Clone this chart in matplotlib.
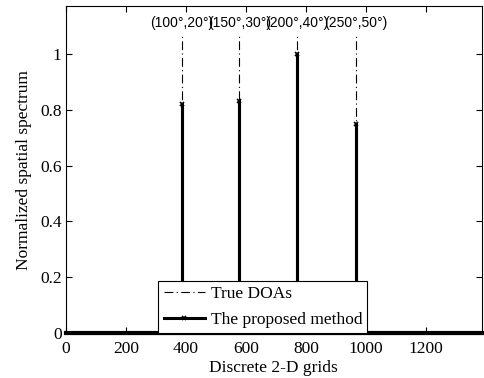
import matplotlib.pyplot as plt

# grid index of each source and its normalized peak
peak_grid = [386, 578, 769, 966]
peak_value = [0.82, 0.83, 1.0, 0.75]
peak_labels = ['(100°,20°)', '(150°,30°)', '(200°,40°)', '(250°,50°)']
n_grid = 1385
true_top = 1.07

# spectrum: zero everywhere except the four peaks
xs = [0]
ys = [0]
for g, v in zip(peak_grid, peak_value):
    xs += [g, g, g]
    ys += [0, v, 0]
xs.append(n_grid)
ys.append(0)
peak_idx = [2 + 3 * i for i in range(len(peak_grid))]

plt.rcParams['font.family'] = 'Liberation Serif'
fig = plt.figure(figsize=(4.84, 3.78), dpi=100)
ax = fig.add_axes([0.136, 0.119, 0.859, 0.864])

ax.vlines(peak_grid, 0, true_top, colors='black', linestyles=(0, (8, 3, 1, 3)),
          linewidth=0.8, label='True DOAs')
ax.plot(xs, ys, color='black', linewidth=2.2, marker='x', markersize=3.5,
        markeredgewidth=1.2, markevery=peak_idx, clip_on=False,
        label='The proposed method')

for g, lab in zip(peak_grid, peak_labels):
    ax.text(g, 1.11, lab, ha='center', va='center', fontsize=10,
            family='Liberation Sans')

ax.set_xlim(0, n_grid)
ax.set_ylim(0, 1.17)
ax.set_xticks([0, 200, 400, 600, 800, 1000, 1200])
ax.set_yticks([0, 0.2, 0.4, 0.6, 0.8, 1])
ax.set_yticklabels(['0', '0.2', '0.4', '0.6', '0.8', '1'])
ax.tick_params(direction='in', top=True, right=True, labelsize=12.5, length=4)
ax.tick_params(axis='x', pad=6)
ax.tick_params(axis='y', pad=3)
ax.spines['bottom'].set_linewidth(3)
ax.set_xlabel('Discrete 2-D grids', fontsize=12.5, labelpad=2)
ax.set_ylabel('Normalized spatial spectrum', fontsize=12.5, labelpad=6)

leg = ax.legend(loc='lower center', bbox_to_anchor=(0.474, 0.0), borderaxespad=0,
                fancybox=False, edgecolor='black', framealpha=1, fontsize=12.5,
                handlelength=2.4, handletextpad=0.3, borderpad=0.3, labelspacing=0.55)
leg.get_frame().set_linewidth(0.8)

fig.savefig('out.png', dpi=100)
